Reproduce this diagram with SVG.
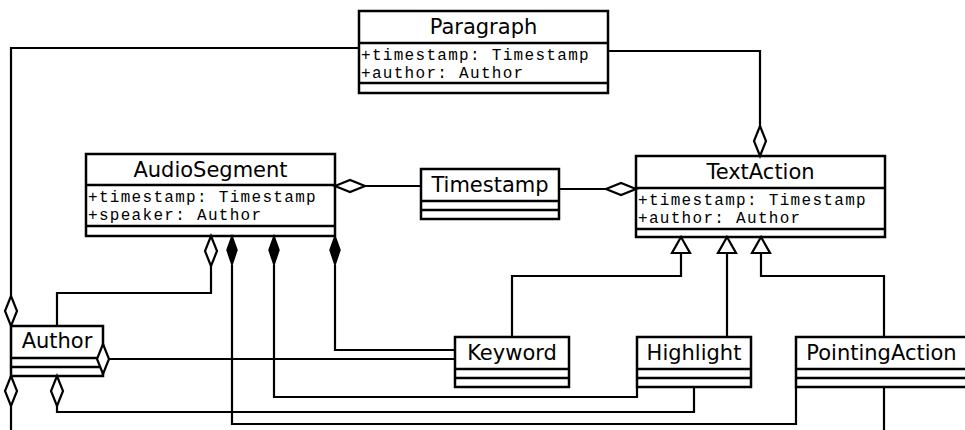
<svg xmlns="http://www.w3.org/2000/svg" xmlns:xlink="http://www.w3.org/1999/xlink" width="965" height="430" viewBox="0 0 965 430">
  <style>
    .box { fill: #fff; stroke: #000; stroke-width: 2.5; }
    .div { stroke: #000; stroke-width: 2.5; fill: none; }
    .name { font-family: "DejaVu Sans", "Liberation Sans", sans-serif; font-size: 21px; fill: #000; text-anchor: middle; }
    .attr { font-family: "Liberation Mono", "DejaVu Sans Mono", monospace; font-size: 16px; letter-spacing: 1.3px; fill: #000; }
    .line { fill: none; stroke: #000; stroke-width: 2.2; }
    .hollow { fill: #fff; stroke: #000; stroke-width: 2.2; }
    .filled { fill: #000; stroke: #000; stroke-width: 1.5; }
  </style>
  <defs>
    <!-- vertical diamond, top tip at origin -->
    <path id="dv" d="M0,0 L6,15 L0,30 L-6,15 Z"/>
    <!-- narrow vertical diamond for composition -->
    <path id="dvf" d="M0,0 L5,14 L0,29 L-5,14 Z"/>
    <!-- horizontal diamond, left tip at origin -->
    <path id="dh" d="M0,0 L15,-6 L30,0 L15,6 Z"/>
    <!-- generalization triangle, tip at origin -->
    <path id="tri" d="M0,0 L9,16 L-9,16 Z"/>
  </defs>

  <rect width="965" height="430" fill="#fff"/>

  <g id="paragraph">
    <rect class="box" x="359" y="11" width="249" height="82"/>
    <path class="div" d="M359,43 H608 M359,83 H608"/>
    <text class="name" x="483.5" y="34">Paragraph</text>
    <text class="attr" x="361" y="60">+timestamp: Timestamp</text>
    <text class="attr" x="361" y="78">+author: Author</text>
  </g>

  <g id="audiosegment">
    <rect class="box" x="86" y="154" width="249" height="82"/>
    <path class="div" d="M86,185 H335 M86,226 H335"/>
    <text class="name" x="210.5" y="177">AudioSegment</text>
    <text class="attr" x="88" y="202">+timestamp: Timestamp</text>
    <text class="attr" x="88" y="220">+speaker: Author</text>
  </g>

  <g id="timestamp">
    <rect class="box" x="421" y="169" width="138" height="50"/>
    <path class="div" d="M421,201 H559 M421,210 H559"/>
    <text class="name" x="490" y="192">Timestamp</text>
  </g>

  <g id="textaction">
    <rect class="box" x="636" y="156" width="249" height="81"/>
    <path class="div" d="M636,188 H885 M636,229 H885"/>
    <text class="name" x="760.5" y="179">TextAction</text>
    <text class="attr" x="638" y="205">+timestamp: Timestamp</text>
    <text class="attr" x="638" y="223">+author: Author</text>
  </g>

  <g id="author">
    <rect class="box" x="11" y="326" width="92" height="50"/>
    <path class="div" d="M11,358 H103 M11,367 H103"/>
    <text class="name" x="57" y="348">Author</text>
  </g>

  <g id="keyword">
    <rect class="box" x="455" y="337" width="114" height="50"/>
    <path class="div" d="M455,369 H569 M455,378 H569"/>
    <text class="name" x="512" y="360">Keyword</text>
  </g>

  <g id="highlight">
    <rect class="box" x="637" y="337" width="114" height="50"/>
    <path class="div" d="M637,369 H751 M637,378 H751"/>
    <text class="name" x="694" y="360">Highlight</text>
  </g>

  <g id="pointingaction">
    <rect class="box" x="796" y="337" width="171" height="50"/>
    <path class="div" d="M796,369 H967 M796,378 H967"/>
    <text class="name" x="881.5" y="360">PointingAction</text>
  </g>

  <g id="connectors">
    <!-- associations and aggregations -->
    <path class="line" d="M359,48 H11 V296"/>
    <path class="line" d="M608,51 H760 V126"/>
    <path class="line" d="M365,186 H421"/>
    <path class="line" d="M559,189 H606"/>
    <path class="line" d="M211,265 V293 H57 V326"/>
    <path class="line" d="M232,265 V424 H796 V387"/>
    <path class="line" d="M274,265 V397 H637 V387"/>
    <path class="line" d="M335,265 V350 H455"/>
    <path class="line" d="M103,359 H455"/>
    <path class="line" d="M11,406 V430"/>
    <path class="line" d="M57,406 V412 H694 V387"/>
    <path class="line" d="M884,387 V430"/>
    <!-- generalizations -->
    <path class="line" d="M681,253 V276 H512 V337"/>
    <path class="line" d="M727,253 V337"/>
    <path class="line" d="M761,253 V276 H884 V337"/>

    <!-- aggregation ends -->
    <use href="#dv" xlink:href="#dv" class="hollow" x="760" y="126"/>
    <use href="#dv" xlink:href="#dv" class="hollow" x="11" y="296"/>
    <use href="#dh" xlink:href="#dh" class="hollow" x="335" y="186"/>
    <use href="#dh" xlink:href="#dh" class="hollow" x="606" y="189"/>
    <use href="#dv" xlink:href="#dv" class="hollow" x="211" y="236"/>
    <use href="#dv" xlink:href="#dv" class="hollow" x="103" y="344"/>
    <use href="#dv" xlink:href="#dv" class="hollow" x="11" y="376"/>
    <use href="#dv" xlink:href="#dv" class="hollow" x="57" y="376"/>
    <!-- composition ends -->
    <use href="#dvf" xlink:href="#dvf" class="filled" x="232" y="236"/>
    <use href="#dvf" xlink:href="#dvf" class="filled" x="274" y="236"/>
    <use href="#dvf" xlink:href="#dvf" class="filled" x="335" y="236"/>
    <!-- generalization heads -->
    <use href="#tri" xlink:href="#tri" class="hollow" x="681" y="237"/>
    <use href="#tri" xlink:href="#tri" class="hollow" x="727" y="237"/>
    <use href="#tri" xlink:href="#tri" class="hollow" x="761" y="237"/>
  </g>
</svg>
